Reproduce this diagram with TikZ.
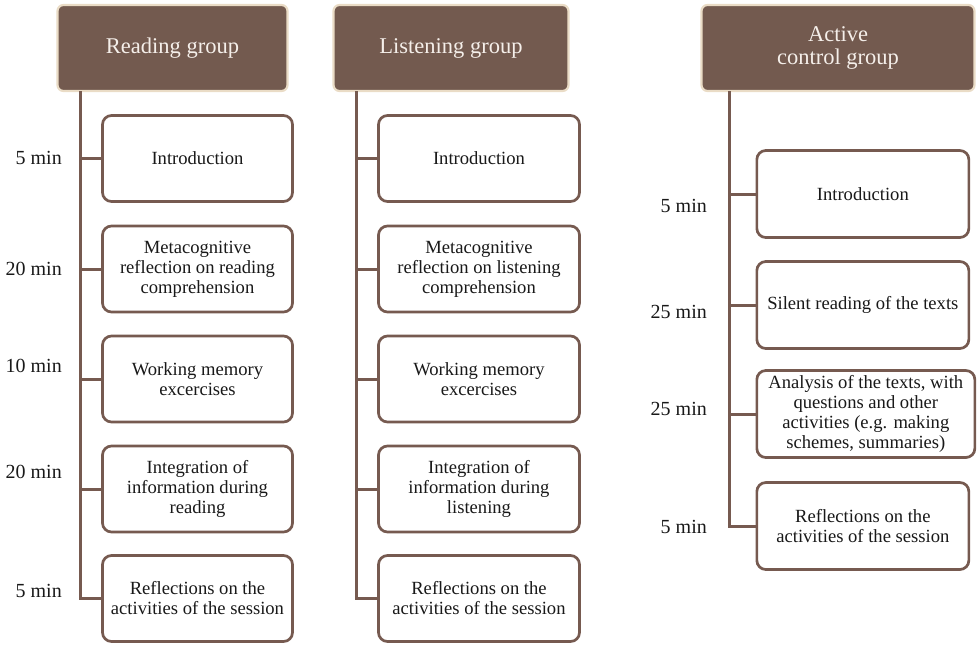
\documentclass[tikz,border=0pt]{standalone}
\usepackage{fontspec}
\setmainfont{Liberation Serif}
\definecolor{hdrfill}{HTML}{735A4F}
\definecolor{hdrline}{HTML}{EADCC6}
\definecolor{boxline}{HTML}{765A50}
\definecolor{hdrtext}{HTML}{F5EFEA}
\tikzset{
  groupbox/.style={rounded corners=6pt,fill=hdrfill,draw=hdrline,line width=2.2pt,
    text=hdrtext,align=center,minimum height=86pt,inner sep=2pt,
    font=\fontsize{22.5}{23.5}\selectfont},
  taskbox/.style={rounded corners=9pt,draw=boxline,fill=white,line width=2.7pt,
    align=center,minimum height=86pt,inner sep=2pt,text=black!90,
    font=\fontsize{18.6}{20}\selectfont},
  branch/.style={draw=boxline,line width=3pt},
  minutes/.style={anchor=east,inner sep=0pt,text=black!90,font=\fontsize{20}{22}\selectfont}
}
\begin{document}
\begin{tikzpicture}[x=1pt,y=-1pt]
    \useasboundingbox (0,0) rectangle (980,645);
    \node[groupbox,minimum width=230pt] (gR) at (172.5,48) {Reading group};
    \node[groupbox,minimum width=235pt] (gL) at (451,48) {Listening group};
    \node[groupbox,minimum width=273pt] (gA) at (838,48) {Active\\control group};
    \coordinate (tR) at (80,91);
    \coordinate (tL) at (356,91);
    \coordinate (tA) at (729,91);
    \foreach \n/\y/\ly/\m/\t in {1/158.5/158/5/Introduction,
        2/269/269/20/{Metacognitive\\reflection on reading\\comprehension},
        3/379/366/10/{Working memory\\excercises},
        4/489/472/20/{Integration of\\information during\\reading},
        5/598.5/591/5/{Reflections on the\\activities of the session}}
    {
        \node[taskbox,minimum width=190pt] (r\n) at (197.5,\y) {\t};
        \draw[branch] (tR |- r\n.west) -- (r\n.west);
        \node[minutes] (mr\n) at (62,\ly) {\m\ min};
    }
    \draw[branch] (tR) |- (r5.west);
    \foreach \n/\y/\t in {1/158.5/Introduction,
        2/269/{Metacognitive\\reflection on listening\\comprehension},
        3/379/{Working memory\\excercises},
        4/489/{Integration of\\information during\\listening},
        5/598.5/{Reflections on the\\activities of the session}}
    {
        \node[taskbox,minimum width=201pt] (l\n) at (479,\y) {\t};
        \draw[branch] (tL |- l\n.west) -- (l\n.west);
    }
    \draw[branch] (tL) |- (l5.west);
    \foreach \n/\y/\ly/\m/\w/\t in {1/194/206/5/212/Introduction,
        2/305/312/25/212/{Silent reading of the texts},
        3/414/409/25/218/{Analysis of the texts, with\\questions and other\\activities (e.g. making\\schemes, summaries)},
        4/526/527/5/212/{Reflections on the\\activities of the session}}
    {
        \node[taskbox,minimum width=\w pt,minimum height=87pt,anchor=west] (a\n) at (755.5,\y) {\t};
        \draw[branch] (tA |- a\n.west) -- (a\n.west);
        \node[minutes] (ma\n) at (707,\ly) {\m\ min};
    }
    \draw[branch] (tA) |- (a4.west);
\end{tikzpicture}
\end{document}
